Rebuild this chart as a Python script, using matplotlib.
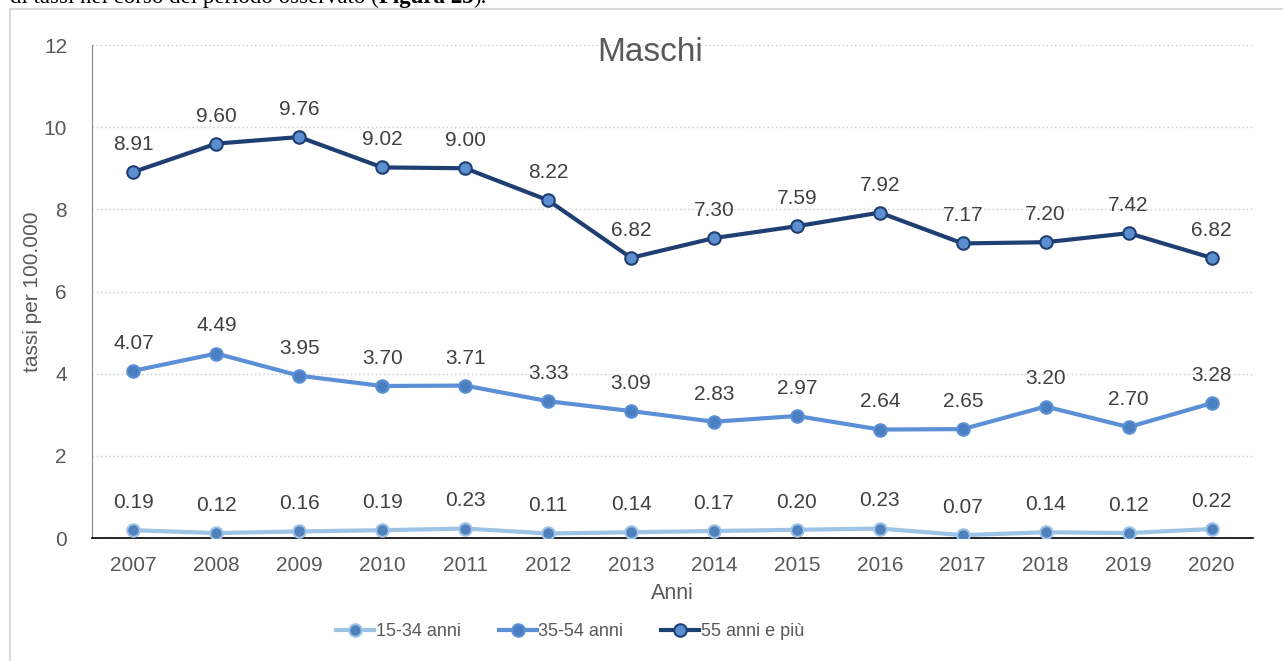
import matplotlib.pyplot as plt
from matplotlib.patches import Rectangle

plt.rcParams['font.family'] = ['Liberation Sans', 'DejaVu Sans']

years = ['2007', '2008', '2009', '2010', '2011', '2012', '2013',
         '2014', '2015', '2016', '2017', '2018', '2019', '2020']
eta_15_34 = [0.19, 0.12, 0.16, 0.19, 0.23, 0.11, 0.14, 0.17, 0.20, 0.23, 0.07, 0.14, 0.12, 0.22]
eta_35_54 = [4.07, 4.49, 3.95, 3.70, 3.71, 3.33, 3.09, 2.83, 2.97, 2.64, 2.65, 3.20, 2.70, 3.28]
eta_55 = [8.91, 9.60, 9.76, 9.02, 9.00, 8.22, 6.82, 7.30, 7.59, 7.92, 7.17, 7.20, 7.42, 6.82]
series_names = ['15-34 anni', '35-54 anni', '55 anni e più']

grey = '#595959'
fig = plt.figure(figsize=(12.83, 6.61), dpi=100)

# cut-off line of document text above the chart
base_y = 1 - 3.5 / 661
t1 = fig.text(0.008, base_y, 'di tassi nel corso del periodo osservato (', family='Liberation Serif',
              fontsize=16.5, color='black', va='baseline', ha='left')
fig.canvas.draw()
bb = t1.get_window_extent()
t2 = fig.text(bb.x1 / 1283, base_y, 'Figura 23', family='Liberation Serif', weight='bold',
              fontsize=16.5, color='black', va='baseline', ha='left')
bb2 = t2.get_window_extent(renderer=fig.canvas.get_renderer())
fig.text(bb2.x1 / 1283, base_y, ').', family='Liberation Serif',
         fontsize=16.5, color='black', va='baseline', ha='left')

# chart border
fig.patches.append(Rectangle((10 / 1283, -0.01), 1.0, 1 - 9 / 661 + 0.01, transform=fig.transFigure,
                             fill=False, edgecolor='#d9d9d9', linewidth=1.5))

ax = fig.add_axes([92 / 1283, 123 / 661, (1253 - 92) / 1283, (538 - 45) / 661])
x = range(len(years))

styles = [
    dict(color='#9dc3e6', mfc='#4f81bd', mec='#9dc3e6'),
    dict(color='#5b8fd6', mfc='#4a7fc1', mec='#5b8fd6'),
    dict(color='#1f3f73', mfc='#5b8fd0', mec='#1f3f73'),
]
for vals, name, st in zip([eta_15_34, eta_35_54, eta_55], series_names, styles):
    ax.plot(x, vals, color=st['color'], lw=3, marker='o', ms=9, mfc=st['mfc'],
            mec=st['mec'], mew=1.5, label=name, zorder=3)
    for xi, v in zip(x, vals):
        ax.annotate(f'{v:.2f}', (xi, v), xytext=(0, 13), textcoords='offset points',
                    ha='center', va='bottom', fontsize=15, color='#404040')

ax.set_xlim(-0.5, len(years) - 0.5)
ax.set_ylim(0, 12)
ax.set_yticks(range(0, 13, 2))
ax.set_xticks(list(x))
ax.set_xticklabels(years)
ax.tick_params(length=0, labelsize=15, labelcolor=grey, pad=13)
ax.tick_params(axis='y', pad=18)
ax.grid(axis='y', linestyle=(0, (1, 2)), color='#c8c8c8', lw=1)
ax.set_axisbelow(True)
for s in ['top', 'right']:
    ax.spines[s].set_visible(False)
ax.spines['left'].set_color('#868686')
ax.spines['bottom'].set_color('black')
ax.spines['bottom'].set_linewidth(1.2)

ax.set_ylabel('tassi per 100.000', fontsize=15, color=grey, labelpad=1)
ax.set_xlabel('Anni', fontsize=15.5, color=grey, labelpad=6)
ax.text(0.481, 0.985, 'Maschi', transform=ax.transAxes, ha='center', va='center',
        fontsize=24, color=grey)

fig.legend(loc='center left', bbox_to_anchor=(336 / 1283, 1 - 632 / 661), ncol=3, frameon=False,
           fontsize=13, labelcolor=grey, handlelength=2.1, handletextpad=0.1,
           columnspacing=2.1, borderpad=0, borderaxespad=0)

fig.savefig('out.png', dpi=100)
